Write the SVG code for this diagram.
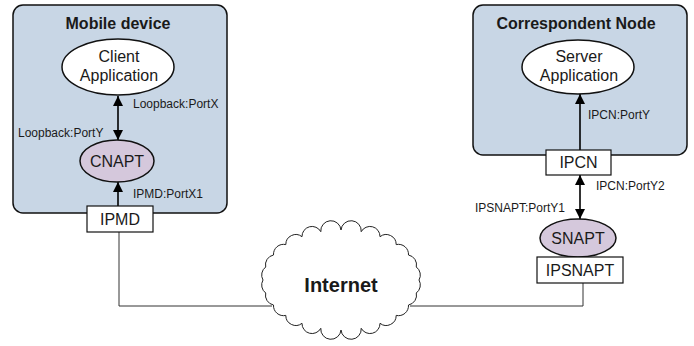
<svg xmlns="http://www.w3.org/2000/svg" width="694" height="346" viewBox="0 0 694 346">
<defs>
<style>
.box{fill:#c8d6e5;stroke:#111;stroke-width:1.5}
.app{fill:#fff;stroke:#111;stroke-width:1.5}
.nat{fill:#d5c8dc;stroke:#111;stroke-width:1.5}
.ip{fill:#fff;stroke:#111;stroke-width:1.2}
.title{font-family:"Liberation Sans",Arial,sans-serif;font-weight:bold;font-size:16px;fill:#1a1a1a;text-anchor:middle}
.node{font-family:"Liberation Sans",Arial,sans-serif;font-size:16px;fill:#1a1a1a;text-anchor:middle}
.lbl{font-family:"Liberation Sans",Arial,sans-serif;font-size:12px;fill:#1a1a1a}
.arr{stroke:#000;stroke-width:1.6;fill:none}
.net{stroke:#333;stroke-width:1;fill:none}
</style>
<marker id="ah" viewBox="0 0 10 10" refX="10" refY="5" markerWidth="10" markerHeight="10" markerUnits="userSpaceOnUse" orient="auto-start-reverse">
<path d="M0,0 L10,5 L0,10 Z" fill="#000"/>
</marker>
</defs>

<g id="mobile-device">
<rect class="box" x="13" y="5" width="214" height="208" rx="10"/>
<text class="title" x="118" y="29">Mobile device</text>
</g>

<g id="correspondent-node">
<rect class="box" x="473" y="5" width="214" height="150" rx="10"/>
<text class="title" x="576" y="29">Correspondent Node</text>
</g>

<g id="connectors">
<line class="arr" x1="118" y1="96" x2="118" y2="140" marker-start="url(#ah)" marker-end="url(#ah)"/>
<line class="arr" x1="118" y1="206" x2="118" y2="182" marker-end="url(#ah)"/>
<line class="arr" x1="580" y1="150" x2="580" y2="94" marker-end="url(#ah)"/>
<line class="arr" x1="580" y1="175" x2="580" y2="219" marker-start="url(#ah)" marker-end="url(#ah)"/>
<polyline class="net" points="119,232 119,306 272,306"/>
<polyline class="net" points="583,283 583,306 410,306"/>
<text class="lbl" x="133" y="108">Loopback:PortX</text>
<text class="lbl" x="18" y="137">Loopback:PortY</text>
<text class="lbl" x="133" y="198">IPMD:PortX1</text>
<text class="lbl" x="588" y="119">IPCN:PortY</text>
<text class="lbl" x="596" y="190">IPCN:PortY2</text>
<text class="lbl" x="475" y="212">IPSNAPT:PortY1</text>
</g>

<g id="client-application">
<ellipse class="app" cx="118" cy="67" rx="56" ry="28"/>
<text class="node" x="119" y="62">Client</text>
<text class="node" x="119" y="81">Application</text>
</g>

<g id="cnapt">
<ellipse class="nat" cx="117" cy="161" rx="37" ry="21"/>
<text class="node" x="117" y="167">CNAPT</text>
</g>

<g id="ipmd">
<rect class="ip" x="87" y="206" width="66" height="26"/>
<text class="node" x="120" y="225">IPMD</text>
</g>

<g id="server-application">
<ellipse class="app" cx="578" cy="67" rx="56" ry="27"/>
<text class="node" x="579" y="62">Server</text>
<text class="node" x="579" y="81">Application</text>
</g>

<g id="ipcn">
<rect class="ip" x="546" y="150" width="65" height="25"/>
<text class="node" x="578.5" y="168">IPCN</text>
</g>

<g id="snapt">
<ellipse class="nat" cx="578" cy="238" rx="38" ry="19"/>
<text class="node" x="578" y="244">SNAPT</text>
</g>

<g id="ipsnapt">
<rect class="ip" x="537" y="257" width="86" height="26"/>
<text class="node" x="580" y="276">IPSNAPT</text>
</g>

<g id="internet">
<path fill="#fff" stroke="#222" stroke-width="1" d="M419,280 A10,10 0 0 1 416.3,293 A10,10 0 0 1 408.5,305 A10,10 0 0 1 396.2,315.4 A10,10 0 0 1 380,323.3 A10,10 0 0 1 361.2,328.3 A10,10 0 0 1 341,330 A10,10 0 0 1 320.8,328.3 A10,10 0 0 1 302,323.3 A10,10 0 0 1 285.8,315.4 A10,10 0 0 1 273.5,305 A10,10 0 0 1 265.7,293 A10,10 0 0 1 263,280 A10,10 0 0 1 265.7,267 A10,10 0 0 1 273.5,255 A10,10 0 0 1 285.8,244.6 A10,10 0 0 1 302,236.7 A10,10 0 0 1 320.8,231.7 A10,10 0 0 1 341,230 A10,10 0 0 1 361.2,231.7 A10,10 0 0 1 380,236.7 A10,10 0 0 1 396.2,244.6 A10,10 0 0 1 408.5,255 A10,10 0 0 1 416.3,267 A10,10 0 0 1 419,280 Z"/>
<text x="341" y="292" font-family="'Liberation Sans',Arial,sans-serif" font-weight="bold" font-size="20" fill="#1a1a1a" text-anchor="middle">Internet</text>
</g>
</svg>
